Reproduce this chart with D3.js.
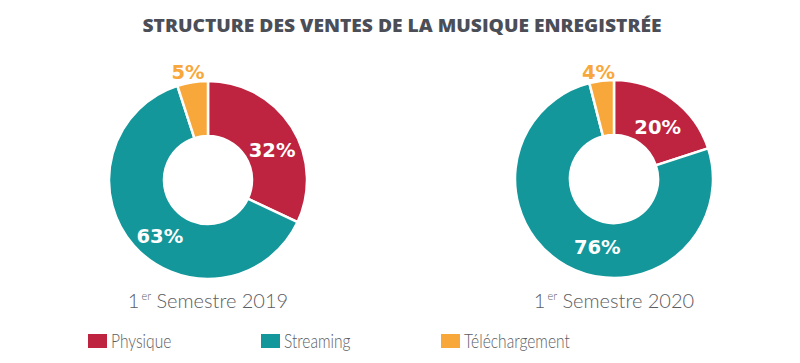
<!DOCTYPE html>
<html>
<head>
<meta charset="utf-8">
<script src="https://cdn.jsdelivr.net/npm/d3@7"></script>
<style>
  body { margin: 0; background: #fff; }
  svg { display: block; }
</style>
</head>
<body>
<svg id="chart" width="800" height="363"></svg>
<script>
const categories = ["Physique", "Streaming", "Téléchargement"];
const periods = ["2019", "2020"];
const values2019 = [32, 63, 5];
const values2020 = [20, 76, 4];

const colors = ["#be2340", "#13979a", "#f8a83b"];

const svg = d3.select("#chart");

svg.append("text")
  .attr("x", 402)
  .attr("y", 32)
  .attr("text-anchor", "middle")
  .attr("font-family", "Open Sans, sans-serif")
  .attr("font-weight", 800)
  .attr("font-size", 18)
  .attr("textLength", 519)
  .attr("lengthAdjust", "spacingAndGlyphs")
  .attr("fill", "#4b4e57")
  .text("STRUCTURE DES VENTES DE LA MUSIQUE ENREGISTRÉE");

const pie = d3.pie().sort(null).value(d => d);
const outerR = 99, innerR = 44;
const arc = d3.arc().innerRadius(innerR).outerRadius(outerR);

const donuts = [
  // label radius + angle nudge (degrees) per slice, the labels are hand placed in the original
  { values: values2019, cx: 208, cy: 180, period: periods[0], lr: [71, 74, 110], nudge: [7, -8, -1.5] },
  { values: values2020, cx: 614, cy: 179, period: periods[1], lr: [68, 70, 108], nudge: [4, -15, -1] }
];

donuts.forEach(dn => {
  const g = svg.append("g").attr("transform", `translate(${dn.cx},${dn.cy})`);
  const arcs = pie(dn.values);

  g.selectAll("path")
    .data(arcs)
    .enter().append("path")
    .attr("d", arc)
    .attr("fill", (d, i) => colors[i])
    .attr("stroke", "#fff")
    .attr("stroke-width", 2.5)
    .attr("stroke-linejoin", "miter");

  g.selectAll("text.lbl")
    .data(arcs)
    .enter().append("text")
    .attr("class", "lbl")
    .attr("transform", (d, i) => {
      const a = (d.startAngle + d.endAngle) / 2 + dn.nudge[i] * Math.PI / 180;
      const r = dn.lr[i];
      return `translate(${Math.sin(a) * r},${-Math.cos(a) * r})`;
    })
    .attr("text-anchor", "middle")
    .attr("dy", "0.36em")
    .attr("font-family", "DejaVu Sans, sans-serif")
    .attr("font-weight", "bold")
    .attr("font-size", 19.5)
    .attr("fill", (d, i) => i === 2 ? colors[2] : "#fff")
    .text(d => d.data + "%");

  const t = svg.append("text")
    .attr("x", dn.cx)
    .attr("y", 308)
    .attr("text-anchor", "middle")
    .attr("font-family", "Lato, sans-serif")
    .attr("font-weight", 300)
    .attr("font-size", 20)
    .attr("fill", "#5b5d63");
  t.append("tspan").text("1");
  t.append("tspan").attr("font-size", 11).attr("dy", -8).attr("dx", 2).text("er");
  t.append("tspan").attr("dy", 8).text(" Semestre " + dn.period);
});

const legendX = [88, 261, 441];
const legend = svg.selectAll("g.leg")
  .data(categories)
  .enter().append("g")
  .attr("class", "leg")
  .attr("transform", (d, i) => `translate(${legendX[i]},334)`);

legend.append("rect")
  .attr("width", 19)
  .attr("height", 14)
  .attr("fill", (d, i) => colors[i]);

legend.append("text")
  .attr("transform", "translate(23,14) scale(0.82,1)")
  .attr("font-family", "Lato, sans-serif")
  .attr("font-weight", 300)
  .attr("font-size", 19)
  .attr("fill", "#5b5d63")
  .text(d => d);
</script>
</body>
</html>
